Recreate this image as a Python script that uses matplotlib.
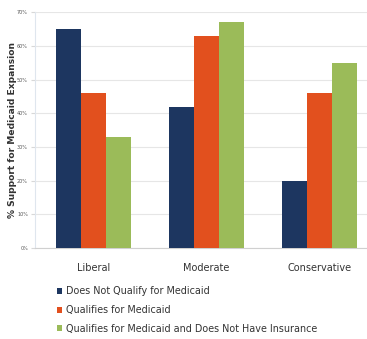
import numpy as np
import matplotlib.pyplot as plt

categories = ['Liberal', 'Moderate', 'Conservative']
series_names = ['Does Not Qualify for Medicaid',
                'Qualifies for Medicaid',
                'Qualifies for Medicaid and Does Not Have Insurance']
not_qualify = [65, 42, 20]
qualify = [46, 63, 46]
qualify_uninsured = [33, 67, 55]
colors = ['#1d3660', '#e2501e', '#9bbb59']

fig = plt.figure(figsize=(3.67, 3.39), dpi=100)
ax = fig.add_axes([0.095, 0.268, 0.905, 0.696])

x = np.arange(len(categories))
w = 0.22
for i, (vals, name) in enumerate(zip([not_qualify, qualify, qualify_uninsured], series_names)):
    ax.bar(x + (i - 1) * w, vals, width=w, color=colors[i], label=name, zorder=3)

ax.set_xlim(-0.518, 2.42)
ax.set_ylim(0, 70)
ax.set_yticks(np.arange(0, 71, 10))
ax.set_yticklabels([f'{v}%' for v in range(0, 71, 10)], fontsize=3.5, color='#555555')
ax.set_xticks(x)
ax.set_xticklabels(categories, fontsize=7, color='#333333')
ax.tick_params(axis='x', length=0, pad=11)
ax.tick_params(axis='y', length=3, color='#d8d8d8', pad=2)
ax.grid(axis='y', color='#e6e6e6', linewidth=0.8, zorder=0)
for s in ['top', 'right']:
    ax.spines[s].set_visible(False)
ax.spines['left'].set_color('#dfe6ee')
ax.spines['bottom'].set_color('#d0d0d0')
ax.set_ylabel('% Support for Medicaid Expansion', fontsize=6.6, fontweight='bold',
              color='#333333')
ax.yaxis.set_label_coords(-0.055, 0.5)

fig.legend(loc='upper left', bbox_to_anchor=(0.155, 0.155), frameon=False,
           fontsize=6.9, handlelength=0.5, handleheight=0.6, handletextpad=0.5,
           labelspacing=0.9, borderaxespad=0, borderpad=0, labelcolor='#333333')

fig.savefig('out.png', dpi=100)
